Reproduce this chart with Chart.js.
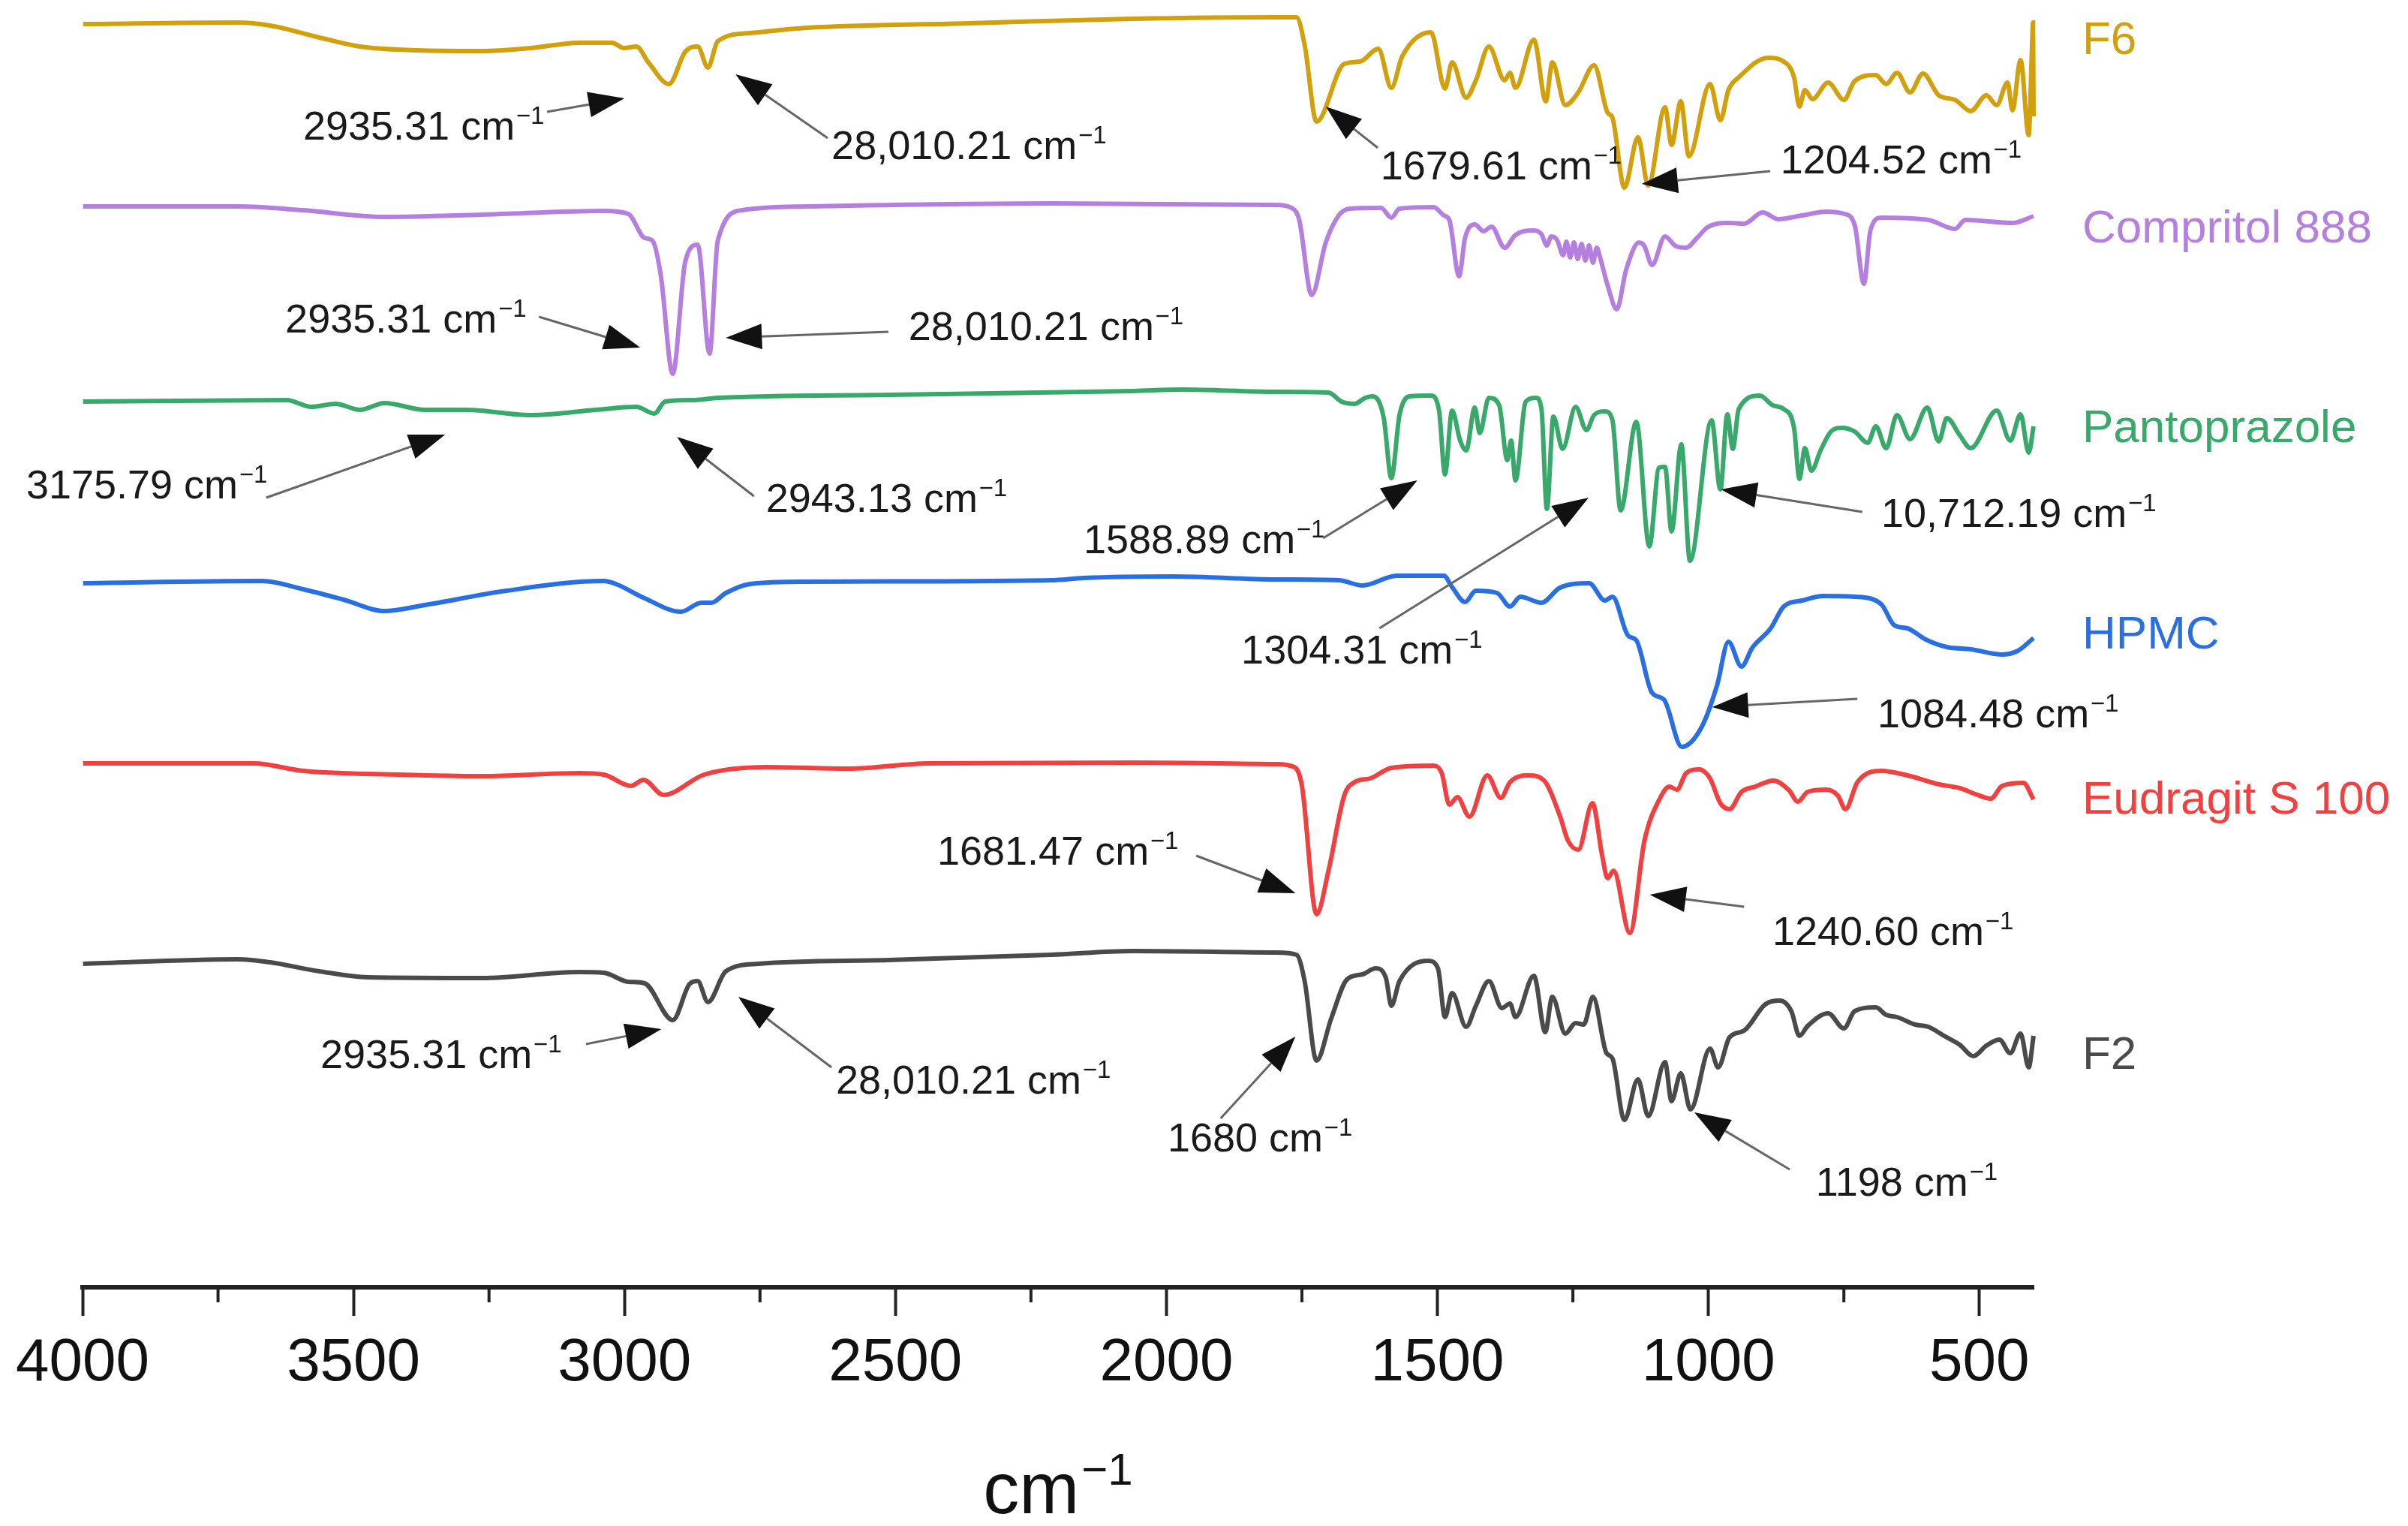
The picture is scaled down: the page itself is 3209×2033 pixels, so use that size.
<!DOCTYPE html>
<html>
<head>
<meta charset="utf-8">
<title>FTIR spectra</title>
<script src="https://cdn.jsdelivr.net/npm/chart.js@4.4.1/dist/chart.umd.min.js"></script>
<style>
  html, body { margin: 0; padding: 0; background: #fff; }
  canvas { display: block; }
</style>
</head>
<body>
<canvas id="ftirChart" width="3209" height="2033"></canvas>
<script>
// Spectra: wavenumber (cm-1) and transmittance (a.u., stacked offsets)
const seriesNames = ['F6', 'Compritol 888', 'Pantoprazole', 'HPMC', 'Eudragit S 100', 'F2'];
const seriesColors = ['#D1A00C', '#B57FE0', '#38A96A', '#2A6FE2', '#F0403F', '#4A4A4A'];

const f6Wave = [3999, 3714, 3654, 3563, 3488, 3383, 3263, 3173, 3083, 3023, 3001, 2978, 2956, 2918, 2888, 2865, 2846, 2828, 2768, 2663, 2363, 2062, 1798, 1760, 1745, 1723, 1672, 1643, 1609, 1585, 1565, 1512, 1486, 1473, 1447, 1429, 1405, 1376, 1366, 1356, 1322, 1300, 1288, 1264, 1240, 1211, 1186, 1177, 1155, 1130, 1111, 1080, 1068, 1051, 1036, 997, 978, 963, 944, 890, 861, 842, 832, 822, 808, 779, 750, 730, 691, 672, 652, 628, 604, 575, 545, 516, 487, 468, 448, 439, 424, 409, 403, 401, 400];
const f6Vals = [168.3, 168.5, 168.1, 166.5, 165.3, 164.8, 164.7, 165.1, 165.8, 165.8, 165.1, 165.3, 163.2, 160.3, 164.6, 165.3, 162.5, 166.0, 167.1, 167.8, 168.4, 169.0, 169.2, 169.2, 165.5, 155.3, 163.0, 163.3, 165.0, 159.8, 164.0, 167.2, 159.7, 163.2, 158.5, 160.8, 165.3, 160.8, 161.8, 159.8, 166.2, 158.0, 163.2, 157.5, 159.2, 162.8, 156.5, 155.8, 146.5, 153.2, 146.8, 157.2, 152.2, 158.0, 150.7, 160.3, 155.5, 159.5, 161.2, 163.8, 163.3, 161.2, 157.3, 159.5, 158.3, 160.5, 158.2, 160.7, 161.5, 160.3, 161.8, 159.2, 161.7, 158.8, 158.2, 156.7, 158.8, 157.5, 160.5, 156.8, 163.5, 153.5, 165.0, 168.5, 156.0];

const compWave = [3999, 3714, 3594, 3443, 3263, 3038, 2993, 2963, 2948, 2933, 2911, 2888, 2865, 2843, 2828, 2783, 2663, 2213, 1798, 1769, 1755, 1732, 1706, 1682, 1662, 1604, 1585, 1570, 1507, 1488, 1478, 1460, 1449, 1431, 1415, 1400, 1376, 1356, 1322, 1308, 1298, 1290, 1279, 1268, 1262, 1255, 1248, 1241, 1234, 1227, 1220, 1213, 1206, 1201, 1186, 1169, 1152, 1128, 1118, 1104, 1080, 1060, 1041, 1021, 1002, 963, 934, 900, 871, 827, 783, 749, 730, 713, 701, 681, 594, 545, 526, 439, 400];
const compVals = [144.0, 144.0, 143.5, 142.6, 142.9, 143.4, 143.0, 139.8, 139.4, 134.8, 121.7, 136.6, 138.9, 124.4, 139.4, 143.5, 144.0, 144.4, 144.2, 143.8, 142.2, 132.2, 139.2, 142.8, 143.7, 143.8, 142.5, 143.7, 143.9, 142.8, 142.2, 134.7, 139.8, 141.6, 140.7, 141.3, 138.5, 140.2, 140.8, 140.3, 138.8, 140.0, 139.5, 137.5, 139.3, 137.2, 139.2, 137.0, 139.0, 136.8, 138.8, 136.5, 138.5, 137.5, 133.5, 130.3, 135.5, 139.2, 138.7, 136.2, 140.0, 138.7, 138.5, 139.8, 141.2, 141.8, 141.7, 143.2, 142.3, 142.8, 143.3, 143.0, 141.5, 133.7, 140.8, 142.5, 142.2, 141.0, 142.2, 141.8, 142.7];

const pantoWave = [3999, 3623, 3578, 3533, 3488, 3443, 3368, 3293, 3173, 3053, 2978, 2945, 2925, 2873, 2828, 2513, 2062, 1972, 1798, 1701, 1677, 1653, 1633, 1619, 1599, 1585, 1570, 1551, 1512, 1497, 1486, 1473, 1458, 1447, 1431, 1422, 1405, 1386, 1371, 1364, 1356, 1337, 1318, 1308, 1298, 1286, 1269, 1245, 1225, 1211, 1191, 1177, 1162, 1133, 1109, 1091, 1080, 1068, 1050, 1034, 994, 978, 965, 955, 944, 905, 881, 861, 842, 832, 822, 810, 793, 774, 754, 730, 706, 691, 672, 652, 628, 596, 575, 560, 536, 516, 468, 443, 424, 409, 400];
const pantoVals = [118.0, 118.2, 117.3, 117.7, 116.9, 117.8, 116.9, 116.9, 116.2, 116.9, 117.3, 116.4, 118.0, 118.2, 118.5, 118.9, 119.4, 119.6, 119.3, 119.2, 118.0, 117.7, 118.5, 118.7, 115.8, 107.8, 116.2, 118.7, 118.8, 116.8, 108.3, 116.8, 112.8, 111.5, 117.2, 113.8, 118.5, 117.5, 110.2, 112.8, 107.5, 118.0, 118.5, 117.0, 103.7, 116.0, 111.7, 117.3, 114.2, 116.2, 116.7, 115.5, 103.5, 115.3, 98.7, 109.2, 109.3, 100.7, 112.3, 96.8, 115.5, 106.3, 116.3, 111.7, 117.0, 118.8, 117.5, 117.0, 114.5, 107.7, 111.8, 108.8, 111.5, 114.0, 114.5, 114.0, 112.5, 114.7, 111.8, 116.2, 113.0, 117.2, 112.7, 115.8, 113.5, 111.8, 116.8, 112.8, 116.3, 111.2, 114.7];

const hpmcWave = [3999, 3669, 3593, 3518, 3443, 3368, 3218, 3038, 3016, 2963, 2896, 2858, 2840, 2813, 2768, 2663, 2213, 2153, 1987, 1798, 1682, 1638, 1575, 1488, 1473, 1449, 1429, 1390, 1366, 1347, 1308, 1274, 1220, 1191, 1177, 1148, 1133, 1104, 1082, 1049, 1012, 984, 963, 939, 919, 885, 861, 827, 788, 730, 681, 657, 633, 599, 560, 516, 458, 429, 400];
const hpmcVals = [93.8, 94.1, 93.0, 91.6, 90.1, 90.9, 92.8, 94.1, 93.7, 91.8, 90.0, 91.2, 91.2, 92.5, 93.7, 94.0, 94.2, 94.5, 94.7, 94.3, 94.2, 93.5, 94.8, 94.8, 93.3, 91.3, 92.8, 92.5, 90.7, 92.0, 91.2, 93.2, 93.8, 91.5, 92.0, 86.8, 86.2, 79.2, 78.3, 72.0, 74.7, 80.2, 86.0, 82.7, 85.2, 87.8, 90.7, 91.5, 92.1, 92.0, 91.0, 88.2, 87.8, 86.3, 85.3, 85.0, 84.3, 84.8, 86.5];

const eudWave = [3999, 3684, 3593, 3413, 3263, 3083, 3038, 2988, 2965, 2928, 2853, 2738, 2588, 2438, 2062, 1798, 1764, 1750, 1723, 1701, 1672, 1653, 1624, 1585, 1507, 1492, 1478, 1463, 1441, 1408, 1383, 1366, 1332, 1303, 1274, 1259, 1240, 1214, 1196, 1186, 1175, 1145, 1118, 1089, 1072, 1058, 1041, 1017, 997, 978, 961, 939, 914, 880, 851, 835, 817, 783, 761, 747, 725, 681, 633, 574, 536, 507, 479, 458, 419, 400];
const eudVals = [69.8, 69.8, 68.8, 68.3, 68.1, 68.5, 68.3, 66.8, 67.6, 65.6, 68.3, 69.3, 69.1, 69.8, 69.9, 69.7, 69.3, 66.8, 49.7, 55.5, 65.5, 67.3, 67.8, 69.2, 69.5, 68.5, 64.3, 65.3, 62.7, 68.2, 65.2, 67.3, 68.2, 67.5, 62.8, 59.5, 58.3, 64.5, 57.5, 54.5, 55.5, 47.2, 59.5, 65.2, 66.7, 66.3, 68.5, 69.0, 67.8, 64.5, 63.7, 66.0, 66.7, 67.5, 66.2, 64.7, 66.0, 66.3, 65.5, 63.7, 67.3, 68.8, 68.2, 67.0, 66.5, 65.7, 65.1, 66.8, 67.2, 65.0];

const f2Wave = [3999, 3714, 3654, 3563, 3473, 3263, 3083, 3038, 2993, 2963, 2911, 2880, 2865, 2846, 2813, 2753, 2513, 2213, 2062, 1798, 1760, 1745, 1723, 1696, 1667, 1638, 1614, 1595, 1585, 1570, 1517, 1499, 1486, 1473, 1447, 1429, 1405, 1381, 1366, 1356, 1322, 1301, 1288, 1264, 1245, 1230, 1213, 1188, 1177, 1155, 1130, 1111, 1080, 1068, 1051, 1033, 997, 982, 961, 934, 895, 868, 847, 832, 817, 779, 750, 730, 691, 672, 652, 618, 594, 565, 536, 511, 487, 463, 443, 424, 409, 400];
const f2Vals = [43.1, 43.7, 43.3, 42.1, 41.3, 41.2, 42.0, 41.9, 40.7, 40.5, 35.6, 40.4, 40.8, 38.0, 42.1, 43.1, 43.6, 44.3, 44.8, 44.6, 44.3, 40.8, 30.2, 35.8, 41.0, 41.7, 42.5, 41.2, 37.5, 40.8, 43.5, 42.5, 36.0, 39.2, 34.7, 37.5, 40.8, 37.2, 37.8, 36.0, 41.5, 34.0, 38.7, 33.8, 35.2, 35.0, 38.7, 31.2, 30.5, 22.3, 27.7, 22.8, 30.0, 24.8, 28.5, 23.7, 31.8, 29.3, 33.3, 34.2, 37.7, 38.2, 36.8, 33.5, 34.8, 36.5, 34.5, 36.8, 37.3, 36.3, 36.0, 35.0, 34.7, 33.5, 32.3, 30.8, 32.2, 33.0, 31.2, 33.8, 29.3, 33.5];

const seriesWave = [f6Wave, compWave, pantoWave, hpmcWave, eudWave, f2Wave];
const seriesVals = [f6Vals, compVals, pantoVals, hpmcVals, eudVals, f2Vals];
// level of each name label on the right (same units as the spectra)
const seriesLabelLevel = [166.0, 140.9, 114.3, 86.8, 64.8, 30.8];

// x axis ticks
const xMajorTicks = [500, 1000, 1500, 2000, 2500, 3000, 3500, 4000];
const xMinorTicks = [750, 1250, 1750, 2250, 2750, 3250, 3750];

// peak annotations: label, text anchor, arrow tail, arrow tip  ([wavenumber, level])
const noteLabels = ['2935.31', '28,010.21', '1679.61', '1204.52', '2935.31', '28,010.21',
  '3175.79', '2943.13', '1588.89', '1304.31', '10,712.19', '1084.48',
  '1681.47', '1240.60', '2935.31', '28,010.21', '1680', '1198'];
const noteTextAt = [[3593, 154.8], [2618, 152.2], [1605, 149.5], [867, 150.3], [3626, 129.1], [2476, 128.1],
  [4104, 107.0], [2739, 105.2], [2153, 99.7], [1862, 85.0], [681, 103.2], [688, 76.5],
  [2423, 58.2], [882, 47.5], [3561, 31.1], [2610, 27.7], [1998, 20.0], [802, 14.1]];
const noteTail = [[3143, 156.6], [2625, 153.1], [1610, 151.8], [886, 148.7], [3158, 129.3], [2513, 127.3],
  [3661, 105.2], [2761, 105.4], [1711, 99.8], [1607, 87.8], [716, 103.3], [725, 78.4],
  [1945, 57.5], [934, 50.7], [3071, 32.4], [2618, 29.3], [1900, 22.5], [850, 15.7]];
const noteTip = [[3000, 158.4], [2795, 161.6], [1706, 157.3], [1123, 147.0], [2971, 125.2], [2813, 126.5],
  [3331, 113.6], [2903, 113.3], [1537, 107.5], [1221, 105.2], [977, 106.3], [993, 77.3],
  [1762, 52.5], [1108, 52.3], [2932, 34.4], [2790, 38.7], [1762, 33.4], [1026, 23.3]];

const FONT = '"Liberation Sans", Arial, sans-serif';
Chart.defaults.font.family = FONT;

// text with a raised "-1"
function drawUnit(ctx, base, x, yMid, size, color) {
  ctx.fillStyle = color;
  ctx.textAlign = 'left';
  ctx.textBaseline = 'alphabetic';
  ctx.font = size + 'px ' + FONT;
  const baseline = yMid + size * 0.358;
  ctx.fillText(base, x, baseline);
  const w = ctx.measureText(base).width;
  ctx.font = Math.round(size * 0.62) + 'px ' + FONT;
  ctx.fillText('\u22121', x + w + size * 0.03, baseline - size * 0.4);
}

function unitWidth(ctx, base, size) {
  ctx.font = size + 'px ' + FONT;
  const w = ctx.measureText(base).width;
  ctx.font = Math.round(size * 0.62) + 'px ' + FONT;
  return w + size * 0.03 + ctx.measureText('\u22121').width;
}

const extrasPlugin = {
  id: 'extras',
  afterDraw(chart) {
    const { ctx, chartArea } = chart;
    const x = chart.scales.x;
    const y = chart.scales.y;
    ctx.save();

    // minor ticks
    ctx.strokeStyle = '#222';
    ctx.lineWidth = 4;
    xMinorTicks.forEach(v => {
      const px = x.getPixelForValue(v);
      ctx.beginPath();
      ctx.moveTo(px, chartArea.bottom);
      ctx.lineTo(px, chartArea.bottom + 20);
      ctx.stroke();
    });

    // axis title
    const tw = unitWidth(ctx, 'cm', 96);
    drawUnit(ctx, 'cm', (chartArea.left + chartArea.right) / 2 - tw / 2, 1982, 96, '#111');

    // series names
    ctx.font = '62px ' + FONT;
    ctx.textAlign = 'left';
    ctx.textBaseline = 'middle';
    seriesNames.forEach((name, i) => {
      ctx.fillStyle = seriesColors[i];
      ctx.fillText(name, chartArea.right + 65, y.getPixelForValue(seriesLabelLevel[i]));
    });

    // peak notes
    noteLabels.forEach((label, i) => {
      drawUnit(ctx, label + ' cm', x.getPixelForValue(noteTextAt[i][0]), y.getPixelForValue(noteTextAt[i][1]), 54, '#1a1a1a');
      const x0 = x.getPixelForValue(noteTail[i][0]);
      const y0 = y.getPixelForValue(noteTail[i][1]);
      const x1 = x.getPixelForValue(noteTip[i][0]);
      const y1 = y.getPixelForValue(noteTip[i][1]);
      const ang = Math.atan2(y1 - y0, x1 - x0);
      const len = 48, half = 17;
      const bx = x1 - Math.cos(ang) * len;
      const by = y1 - Math.sin(ang) * len;
      ctx.strokeStyle = '#666';
      ctx.lineWidth = 3;
      ctx.beginPath();
      ctx.moveTo(x0, y0);
      ctx.lineTo(bx, by);
      ctx.stroke();
      ctx.fillStyle = '#111';
      ctx.beginPath();
      ctx.moveTo(x1, y1);
      ctx.lineTo(bx + Math.sin(ang) * half, by - Math.cos(ang) * half);
      ctx.lineTo(bx - Math.sin(ang) * half, by + Math.cos(ang) * half);
      ctx.closePath();
      ctx.fill();
    });
    ctx.restore();
  }
};

const ctx = document.getElementById('ftirChart').getContext('2d');
new Chart(ctx, {
  type: 'line',
  data: {
    datasets: seriesNames.map((name, i) => ({
      label: name,
      data: seriesWave[i].map((w, j) => ({ x: w, y: seriesVals[i][j] })),
      borderColor: seriesColors[i],
      borderWidth: 6,
      pointRadius: 0,
      cubicInterpolationMode: 'monotone',
      fill: false,
      clip: false
    }))
  },
  options: {
    responsive: false,
    devicePixelRatio: 1,
    animation: false,
    layout: { padding: { left: 110, right: 499, top: 0, bottom: 0 } },
    plugins: {
      legend: { display: false },
      tooltip: { enabled: false }
    },
    scales: {
      x: {
        type: 'linear',
        reverse: true,
        min: 400,
        max: 4000,
        afterBuildTicks: scale => { scale.ticks = xMajorTicks.map(v => ({ value: v })); },
        afterFit: scale => { scale.height = 318; },
        border: { display: true, color: '#222', width: 6 },
        grid: { display: true, drawOnChartArea: false, drawTicks: true, tickLength: 38, tickWidth: 4, tickColor: '#222' },
        ticks: { color: '#111', font: { size: 80 }, padding: 16, maxRotation: 0, autoSkip: false, callback: v => String(v) },
        title: { display: false }
      },
      y: {
        type: 'linear',
        display: false,
        min: 0,
        max: 171.5
      }
    }
  },
  plugins: [extrasPlugin]
});
</script>
</body>
</html>
